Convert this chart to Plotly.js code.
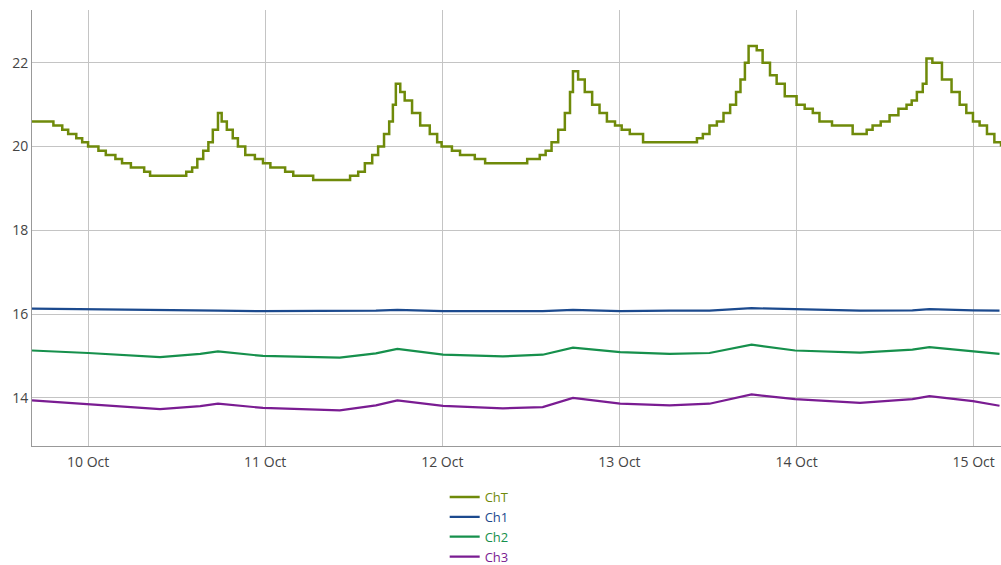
<!DOCTYPE html>
<html>
<head>
<meta charset="utf-8">
<script src="https://cdn.plot.ly/plotly-3.0.1.min.js"></script>
<style>
html,body{margin:0;padding:0;background:#fff;}
#chart{width:1001px;height:565px;}
</style>
</head>
<body>
<div id="chart"></div>
<script>
// ChT (step data)
const chT_time = [
"2024-10-09 16:24","2024-10-09 19:18","2024-10-09 20:30","2024-10-09 21:18","2024-10-09 22:24","2024-10-09 23:12",
"2024-10-10 00:00","2024-10-10 01:24","2024-10-10 02:24","2024-10-10 03:42","2024-10-10 04:36","2024-10-10 05:48",
"2024-10-10 07:36","2024-10-10 08:24","2024-10-10 13:18","2024-10-10 14:06","2024-10-10 14:48","2024-10-10 15:36",
"2024-10-10 16:18","2024-10-10 16:54","2024-10-10 17:36","2024-10-10 18:06","2024-10-10 18:48","2024-10-10 19:36",
"2024-10-10 20:18","2024-10-10 21:18","2024-10-10 22:36","2024-10-10 23:42",
"2024-10-11 00:42","2024-10-11 02:42","2024-10-11 03:48","2024-10-11 06:30","2024-10-11 11:30","2024-10-11 12:36",
"2024-10-11 13:30","2024-10-11 14:30","2024-10-11 15:18","2024-10-11 16:06","2024-10-11 16:48","2024-10-11 17:18",
"2024-10-11 17:42","2024-10-11 18:18","2024-10-11 18:54","2024-10-11 19:54","2024-10-11 21:00","2024-10-11 22:18",
"2024-10-11 23:18","2024-10-11 23:54",
"2024-10-12 01:18","2024-10-12 02:24","2024-10-12 04:24","2024-10-12 05:48","2024-10-12 11:30","2024-10-12 13:12",
"2024-10-12 14:00","2024-10-12 14:48","2024-10-12 15:42","2024-10-12 16:36","2024-10-12 17:18","2024-10-12 17:42",
"2024-10-12 18:24","2024-10-12 19:18","2024-10-12 20:18","2024-10-12 21:18","2024-10-12 22:18","2024-10-12 23:24",
"2024-10-13 00:18","2024-10-13 01:24","2024-10-13 03:12","2024-10-13 10:30","2024-10-13 11:18","2024-10-13 12:12",
"2024-10-13 13:12","2024-10-13 14:06","2024-10-13 15:00","2024-10-13 15:48","2024-10-13 16:24","2024-10-13 17:00",
"2024-10-13 17:30","2024-10-13 18:36","2024-10-13 19:24","2024-10-13 20:24","2024-10-13 21:18","2024-10-13 22:24",
"2024-10-14 00:00","2024-10-14 01:06","2024-10-14 02:12","2024-10-14 03:06","2024-10-14 04:48","2024-10-14 07:36",
"2024-10-14 09:30","2024-10-14 10:18","2024-10-14 11:24","2024-10-14 12:36","2024-10-14 13:48","2024-10-14 14:54",
"2024-10-14 15:36","2024-10-14 16:18","2024-10-14 17:06","2024-10-14 17:36","2024-10-14 18:24","2024-10-14 19:42",
"2024-10-14 21:00","2024-10-14 22:06","2024-10-14 23:00","2024-10-14 23:54",
"2024-10-15 00:48","2024-10-15 01:48","2024-10-15 02:48","2024-10-15 03:42"
];
const chT_values = [
20.6,20.5,20.4,20.3,20.2,20.1,
20.0,19.9,19.8,19.7,19.6,19.5,
19.4,19.3,19.4,19.5,19.7,19.9,
20.1,20.4,20.8,20.6,20.4,20.2,
20.0,19.8,19.7,19.6,
19.5,19.4,19.3,19.2,19.3,19.4,
19.6,19.8,20.0,20.3,20.6,21.0,
21.5,21.3,21.1,20.8,20.5,20.3,
20.1,20.0,
19.9,19.8,19.7,19.6,19.7,19.8,
19.9,20.1,20.4,20.8,21.3,21.8,
21.6,21.3,21.0,20.8,20.6,20.5,
20.4,20.3,20.1,20.2,20.3,20.5,
20.6,20.8,21.0,21.3,21.6,22.0,
22.4,22.3,22.0,21.7,21.5,21.2,
21.0,20.9,20.8,20.6,20.5,20.3,
20.4,20.5,20.6,20.75,20.9,21.0,
21.1,21.3,21.5,22.1,22.0,21.6,
21.3,21.0,20.8,20.6,
20.5,20.3,20.1,20.0
];

// Ch1, Ch2, Ch3 share the same sample times
const ch_time = [
"2024-10-09 16:24","2024-10-10 00:00","2024-10-10 09:45","2024-10-10 15:12","2024-10-10 17:36","2024-10-10 23:42",
"2024-10-11 10:06","2024-10-11 15:00","2024-10-11 17:54","2024-10-12 00:06","2024-10-12 08:12","2024-10-12 13:36",
"2024-10-12 17:42","2024-10-13 00:06","2024-10-13 06:48","2024-10-13 12:12","2024-10-13 17:54","2024-10-13 23:48",
"2024-10-14 08:36","2024-10-14 15:42","2024-10-14 18:00","2024-10-14 23:54","2024-10-15 03:30"
];
const ch1_values = [16.13,16.11,16.09,16.08,16.08,16.07,16.07,16.08,16.10,16.07,16.07,16.07,16.10,16.07,16.08,16.08,16.14,16.12,16.08,16.09,16.12,16.09,16.08];
const ch2_values = [15.13,15.07,14.97,15.05,15.11,15.00,14.96,15.06,15.17,15.03,14.99,15.03,15.20,15.09,15.05,15.07,15.27,15.13,15.08,15.15,15.21,15.11,15.05];
const ch3_values = [13.94,13.85,13.73,13.80,13.86,13.76,13.70,13.82,13.94,13.81,13.75,13.78,14.00,13.86,13.82,13.86,14.08,13.97,13.88,13.97,14.04,13.92,13.81];

const names = ["ChT","Ch1","Ch2","Ch3"];
const colors = ["#6f8a0a","#1c4a8e","#16904c","#7a1c92"];

const traces = [
  {x: chT_time, y: chT_values, type:"scatter", mode:"lines", line:{shape:"hv", color:colors[0], width:2.5}, name:`<span style="color:${colors[0]}">${names[0]}</span>`},
  {x: ch_time, y: ch1_values, type:"scatter", mode:"lines", line:{color:colors[1], width:2.2}, name:`<span style="color:${colors[1]}">${names[1]}</span>`},
  {x: ch_time, y: ch2_values, type:"scatter", mode:"lines", line:{color:colors[2], width:2.2}, name:`<span style="color:${colors[2]}">${names[2]}</span>`},
  {x: ch_time, y: ch3_values, type:"scatter", mode:"lines", line:{color:colors[3], width:2.2}, name:`<span style="color:${colors[3]}">${names[3]}</span>`}
];

const layout = {
  width:1001, height:565,
  margin:{l:32, r:0, t:10, b:119, autoexpand:false},
  paper_bgcolor:"#fff", plot_bgcolor:"#fff",
  font:{family:"Open Sans, sans-serif", size:14, color:"#444"},
  showlegend:true,
  legend:{orientation:"v", x:0.462, xanchor:"center", yref:"container", y:0.147, yanchor:"top",
          font:{size:13}, tracegroupgap:0, itemwidth:30},
  xaxis:{type:"date", range:["2024-10-09 16:24","2024-10-15 03:42"],
         dtick:86400000, tick0:"2024-10-10", tickformat:"%-d %b",
         showgrid:true, gridcolor:"#c4c4c4", gridwidth:1,
         showline:true, linecolor:"#999", linewidth:1,
         ticks:"outside", ticklen:3, tickcolor:"rgba(0,0,0,0)", zeroline:false, tickfont:{size:14, color:"#444"}},
  yaxis:{range:[12.85,23.26], dtick:2, tick0:14,
         showgrid:true, gridcolor:"#c4c4c4", gridwidth:1,
         showline:true, linecolor:"#999", linewidth:1,
         ticks:"", zeroline:false, tickfont:{size:14, color:"#444"}}
};

Plotly.newPlot("chart", traces, layout, {displayModeBar:false, staticPlot:true});
</script>
</body>
</html>
